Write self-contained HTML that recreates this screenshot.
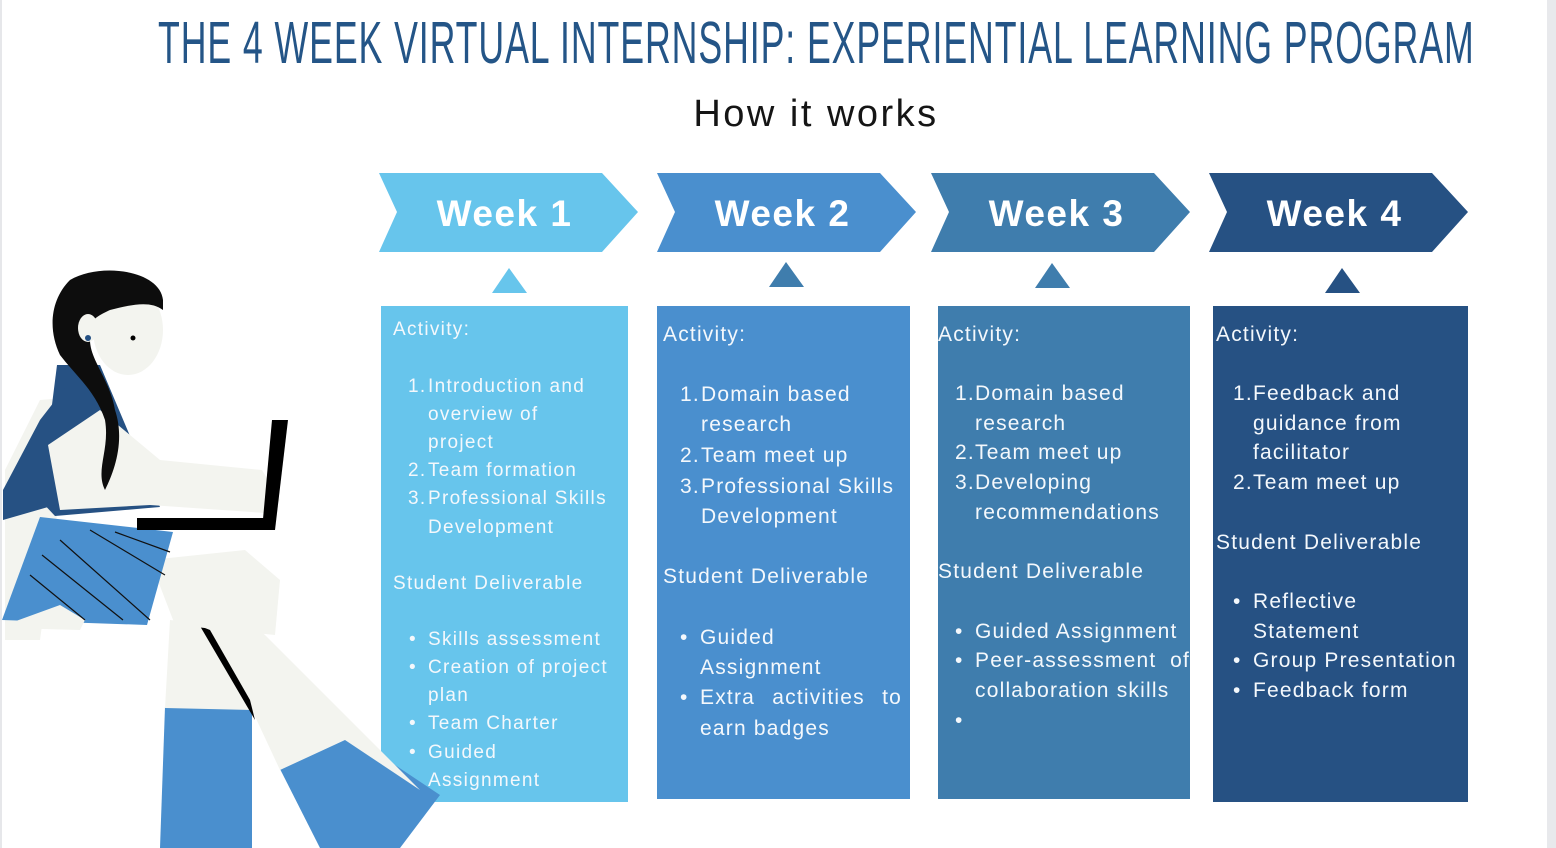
<!DOCTYPE html>
<html><head><meta charset="utf-8">
<style>
body{margin:0;width:1556px;height:848px;overflow:hidden;background:#fff;position:relative;font-family:"Liberation Sans",sans-serif}
.t{position:absolute;color:#f4f8fc;white-space:nowrap;line-height:1}
.a{font-size:19px;letter-spacing:1.3px}.b{font-size:21px;letter-spacing:1.2px}
.h{position:absolute;color:#fff;font-weight:bold;font-size:37px;letter-spacing:1.5px;text-align:center}
</style></head><body>
<div style="position:absolute;left:0;top:0;width:2px;height:848px;background:#e6e7ea"></div>
<div style="position:absolute;left:1547px;top:0;width:9px;height:848px;background:#e8e9ec"></div>
<div style="position:absolute;left:158px;top:9px;width:1315px;height:60px;overflow:visible">
<div style="font-size:59px;color:#245587;white-space:nowrap;transform-origin:0 0;transform:scaleX(0.605);letter-spacing:1.5px;font-family:'Liberation Sans Narrow','Liberation Sans',sans-serif">THE 4 WEEK VIRTUAL INTERNSHIP: EXPERIENTIAL LEARNING PROGRAM</div></div>
<div style="position:absolute;left:0;width:1632px;top:93px;text-align:center;font-size:38px;letter-spacing:2.5px;color:#151515">How it works</div>

<svg width="1556" height="848" style="position:absolute;left:0;top:0">
<polygon points="379,173 602,173 638,212 602,252 379,252 397,212" fill="#67c5ec"/>
<polygon points="657,173 880,173 916,212 880,252 657,252 675,212" fill="#4a8fce"/>
<polygon points="931,173 1154,173 1190,212 1154,252 931,252 949,212" fill="#3f7dad"/>
<polygon points="1209,173 1432,173 1468,212 1432,252 1209,252 1227,212" fill="#265183"/>
<polygon points="492,293 509,268 527,293" fill="#67c5ec"/>
<polygon points="769,287 786,262 804,287" fill="#3f7dad"/>
<polygon points="1035,288 1052,263 1070,288" fill="#3f7dad"/>
<polygon points="1325,293 1342,268 1360,293" fill="#265183"/>
<rect x="381" y="306" width="247" height="496" fill="#67c5ec"/>
<rect x="657" y="306" width="253" height="493" fill="#4a8fce"/>
<rect x="938" y="306" width="252" height="493" fill="#3f7dad"/>
<rect x="1213" y="306" width="255" height="496" fill="#265183"/>
<!-- girl -->
<polygon points="165,707 252,707 252,848 160,848" fill="#4a8fce"/>
<polygon points="278,765 350,735 440,795 400,848 320,848" fill="#4a8fce"/>
<polygon points="170,620 260,630 420,790 345,740 280,770 252,710 165,708" fill="#f3f4ef"/>
<polygon points="200,626 255,720 250,700 210,630" fill="#000"/>
<polygon points="150,560 245,550 280,580 275,635 175,625" fill="#f3f4ef"/>
<polygon points="5,470 40,400 100,395 160,507 57,515 40,640 5,640" fill="#f3f4ef"/>
<polygon points="57,365 100,365 160,507 55,516 40,500" fill="#265183"/>
<polygon points="3,520 55,505 100,385 75,375 40,420 3,490" fill="#265183"/>
<polygon points="40,517 173,532 147,625 2,620" fill="#4a8fce"/>
<polygon points="48,445 100,410 160,460 262,470 280,500 265,513 150,505 60,510" fill="#f3f4ef"/>
<path d="M5,625 L60,605 L85,620 L80,630 L5,628Z" fill="#f3f4ef"/>
<path d="M60,540 L150,620 M42,555 L123,620 M30,575 L85,620 M90,530 L165,575 M115,532 L170,552" stroke="#111" stroke-width="1.2"/>
<rect x="137" y="518" width="130" height="12" fill="#000"/>
<polygon points="272,420 288,420 275,530 262,530" fill="#000"/>
<ellipse cx="128" cy="330" rx="35" ry="45" fill="#f3f4ef"/>
<path d="M163,300 C160,270 100,262 70,280 C50,300 48,330 60,355 C75,375 95,390 105,420 C110,450 95,470 105,490 C115,470 125,440 115,410 C110,380 90,360 90,340 C85,320 100,315 110,310 C130,305 150,300 163,310Z" fill="#0d0d0d"/>
<ellipse cx="88" cy="328" rx="10" ry="14" fill="#f3f4ef"/>
<circle cx="88" cy="338" r="3" fill="#245083"/>
<circle cx="133" cy="338" r="2.5" fill="#000"/>
</svg>

<div class="h" style="left:375px;width:259px;top:193px">Week 1</div>
<div class="h" style="left:653px;width:259px;top:193px">Week 2</div>
<div class="h" style="left:927px;width:259px;top:193px">Week 3</div>
<div class="h" style="left:1205px;width:259px;top:193px">Week 4</div>

<!-- W1 -->
<div class="t a" style="left:393px;top:320px">Activity:</div>
<div class="t a" style="left:408px;top:377px">1.</div><div class="t a" style="left:428px;top:377px">Introduction and</div>
<div class="t a" style="left:428px;top:405px">overview of</div>
<div class="t a" style="left:428px;top:433px">project</div>
<div class="t a" style="left:408px;top:461px">2.</div><div class="t a" style="left:428px;top:461px">Team formation</div>
<div class="t a" style="left:408px;top:489px">3.</div><div class="t a" style="left:428px;top:489px">Professional Skills</div>
<div class="t a" style="left:428px;top:518px">Development</div>
<div class="t a" style="left:393px;top:574px">Student Deliverable</div>
<div class="t a" style="left:409px;top:630px">•</div><div class="t a" style="left:428px;top:630px">Skills assessment</div>
<div class="t a" style="left:409px;top:658px">•</div><div class="t a" style="left:428px;top:658px">Creation of project</div>
<div class="t a" style="left:428px;top:686px">plan</div>
<div class="t a" style="left:409px;top:714px">•</div><div class="t a" style="left:428px;top:714px">Team Charter</div>
<div class="t a" style="left:409px;top:743px">•</div><div class="t a" style="left:428px;top:743px">Guided</div>
<div class="t a" style="left:428px;top:771px">Assignment</div>
<!-- W2 -->
<div class="t b" style="left:663px;top:324px">Activity:</div>
<div class="t b" style="left:680px;top:384px">1.</div><div class="t b" style="left:701px;top:384px">Domain based</div>
<div class="t b" style="left:701px;top:414px">research</div>
<div class="t b" style="left:680px;top:445px">2.</div><div class="t b" style="left:701px;top:445px">Team meet up</div>
<div class="t b" style="left:680px;top:476px">3.</div><div class="t b" style="left:701px;top:476px">Professional Skills</div>
<div class="t b" style="left:701px;top:506px">Development</div>
<div class="t b" style="left:663px;top:566px">Student Deliverable</div>
<div class="t b" style="left:680px;top:627px">•</div><div class="t b" style="left:700px;top:627px">Guided</div>
<div class="t b" style="left:700px;top:657px">Assignment</div>
<div class="t b" style="left:680px;top:687px">•</div><div class="t b" style="left:700px;top:687px;width:202px;display:flex;justify-content:space-between"><span>Extra</span><span>activities</span><span>to</span></div>
<div class="t b" style="left:700px;top:718px">earn badges</div>
<!-- W3 -->
<div class="t b" style="left:938px;top:324px">Activity:</div>
<div class="t b" style="left:955px;top:383px">1.</div><div class="t b" style="left:975px;top:383px">Domain based</div>
<div class="t b" style="left:975px;top:413px">research</div>
<div class="t b" style="left:955px;top:442px">2.</div><div class="t b" style="left:975px;top:442px">Team meet up</div>
<div class="t b" style="left:955px;top:472px">3.</div><div class="t b" style="left:975px;top:472px">Developing</div>
<div class="t b" style="left:975px;top:502px">recommendations</div>
<div class="t b" style="left:938px;top:561px">Student Deliverable</div>
<div class="t b" style="left:955px;top:621px">•</div><div class="t b" style="left:975px;top:621px">Guided Assignment</div>
<div class="t b" style="left:955px;top:650px">•</div><div class="t b" style="left:975px;top:650px;width:215px;display:flex;justify-content:space-between"><span>Peer-assessment</span><span>of</span></div>
<div class="t b" style="left:975px;top:680px">collaboration skills</div>
<div class="t b" style="left:955px;top:710px">•</div>
<!-- W4 -->
<div class="t b" style="left:1216px;top:324px">Activity:</div>
<div class="t b" style="left:1233px;top:383px">1.</div><div class="t b" style="left:1253px;top:383px">Feedback and</div>
<div class="t b" style="left:1253px;top:413px">guidance from</div>
<div class="t b" style="left:1253px;top:442px">facilitator</div>
<div class="t b" style="left:1233px;top:472px">2.</div><div class="t b" style="left:1253px;top:472px">Team meet up</div>
<div class="t b" style="left:1216px;top:532px">Student Deliverable</div>
<div class="t b" style="left:1233px;top:591px">•</div><div class="t b" style="left:1253px;top:591px">Reflective</div>
<div class="t b" style="left:1253px;top:621px">Statement</div>
<div class="t b" style="left:1233px;top:650px">•</div><div class="t b" style="left:1253px;top:650px">Group Presentation</div>
<div class="t b" style="left:1233px;top:680px">•</div><div class="t b" style="left:1253px;top:680px">Feedback form</div>
</body></html>
